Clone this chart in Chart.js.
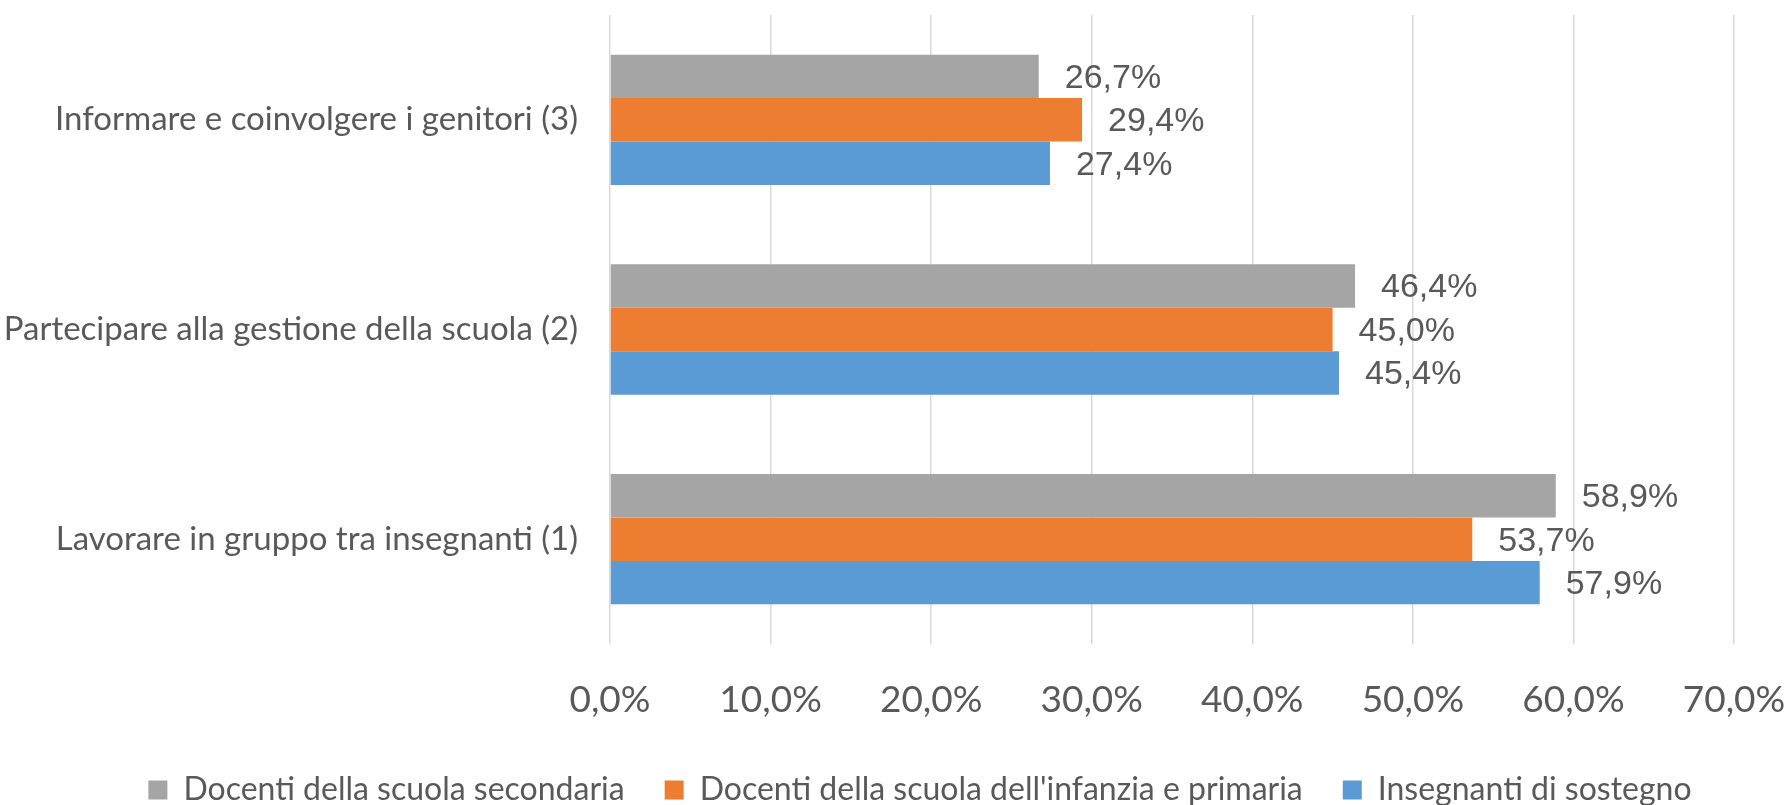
<!DOCTYPE html>
<html lang="it">
<head>
<meta charset="UTF-8">
<title>Attività degli insegnanti</title>
<script src="https://cdn.jsdelivr.net/npm/chart.js"></script>
<style>
  html, body { margin: 0; padding: 0; background: #ffffff; }
  #wrap { width: 1789px; height: 805px; position: relative; }
</style>
</head>
<body>
<div id="wrap"><canvas id="chart"></canvas></div>
<script>
// data
const categories = [
  'Informare e coinvolgere i genitori (3)',
  'Partecipare alla gestione della scuola (2)',
  'Lavorare in gruppo tra insegnanti (1)'
];
const seriesNames = [
  'Docenti della scuola secondaria',
  "Docenti della scuola dell'infanzia e primaria",
  'Insegnanti di sostegno'
];
const secondaria = [26.7, 46.4, 58.9];
const infanziaPrimaria = [29.4, 45.0, 53.7];
const sostegno = [27.4, 45.4, 57.9];
const xTicks = [0, 10, 20, 30, 40, 50, 60, 70];
const seriesColors = ['#A5A5A5', '#ED7D31', '#5B9BD5'];

const textGray = '#595959';
const fmt = v => v.toFixed(1).replace('.', ',') + '%';

// value labels to the right of each bar
const valueLabels = {
  id: 'valueLabels',
  afterDatasetsDraw(chart) {
    const ctx = chart.ctx;
    ctx.save();
    ctx.font = '34px "Liberation Sans", Arial, sans-serif';
    ctx.fillStyle = textGray;
    ctx.textAlign = 'left';
    ctx.textBaseline = 'middle';
    chart.data.datasets.forEach((ds, i) => {
      chart.getDatasetMeta(i).data.forEach((bar, j) => {
        ctx.fillText(fmt(ds.data[j]), bar.x + 26, bar.y + 2);
      });
    });
    ctx.restore();
  }
};

// nudge the legend right and down, like the original
const legendShift = {
  id: 'legendShift',
  afterLayout(chart) {
    const lg = chart.legend;
    if (lg) {
      lg.left += 53;
      lg.right += 53;
      lg.top += 11;
      lg.bottom += 11;
    }
  }
};

const allSeries = [secondaria, infanziaPrimaria, sostegno];

new Chart(document.getElementById('chart'), {
  type: 'bar',
  data: {
    labels: categories,
    datasets: allSeries.map((vals, i) => ({
      label: seriesNames[i],
      data: vals,
      backgroundColor: seriesColors[i],
      borderWidth: 0,
      categoryPercentage: 0.622,
      barPercentage: 1.0
    }))
  },
  options: {
    indexAxis: 'y',
    responsive: true,
    maintainAspectRatio: false,
    animation: false,
    layout: { padding: { top: 15, right: 55, left: 0, bottom: 0 } },
    scales: {
      x: {
        min: 0,
        max: 70,
        afterBuildTicks: axis => { axis.ticks = xTicks.map(v => ({ value: v })); },
        afterFit: axis => {
          axis.height = 79;
          axis.paddingLeft = 0;
          axis.paddingRight = 0;
        },
        grid: { color: '#D9D9D9', lineWidth: 1.5, drawTicks: false },
        border: { display: false },
        ticks: {
          padding: 34,
          color: textGray,
          font: { family: 'Lato', size: 37 },
          callback: v => fmt(v)
        }
      },
      y: {
        afterFit: axis => {
          axis.width = 610;
          axis.paddingTop = 0;
          axis.paddingBottom = 0;
        },
        grid: { display: false, drawTicks: false },
        border: { display: false },
        ticks: {
          padding: 32,
          color: textGray,
          font: { family: 'Lato', size: 33 }
        }
      }
    },
    plugins: {
      legend: {
        position: 'bottom',
        labels: {
          color: textGray,
          font: { family: 'Lato', size: 32 },
          boxWidth: 19,
          boxHeight: 19,
          padding: 40
        }
      },
      tooltip: { enabled: false }
    }
  },
  plugins: [valueLabels, legendShift]
});
</script>
</body>
</html>
